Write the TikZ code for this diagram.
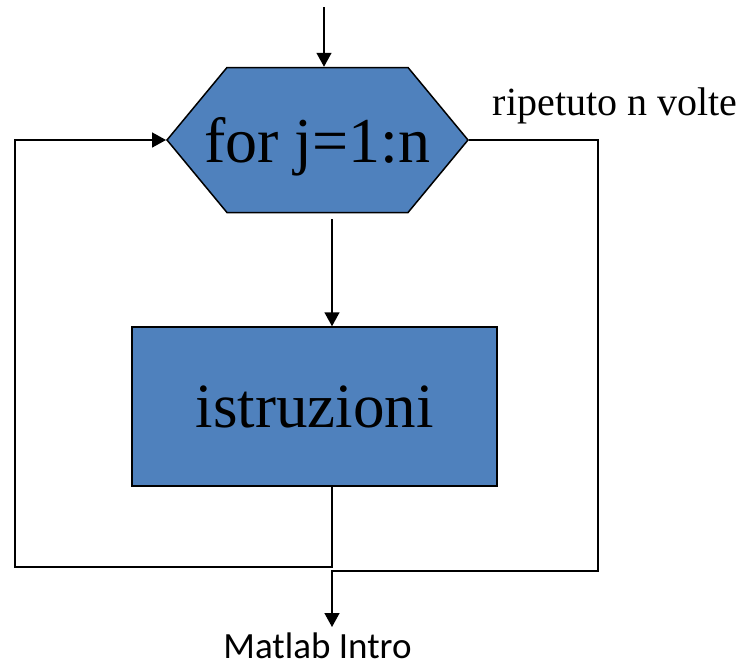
\documentclass[tikz,border=0pt]{standalone}
\usepackage{fontspec}
\setmainfont{Liberation Serif}
\newfontfamily\carlito{Carlito}
\usetikzlibrary{arrows.meta,shapes.symbols}
\definecolor{boxblue}{RGB}{79,129,189}
\tikzset{
  link/.style   = {line width=1.5pt},
  arr/.style    = {link, -{Triangle[length=14pt,width=15pt]}},
  hexbox/.style = {signal, signal to=west and east, signal pointer angle=100.8,
                   draw, line width=1.5pt, fill=boxblue, inner sep=0pt,
                   minimum width=301pt, minimum height=145pt},
  bodybox/.style= {rectangle, draw, line width=1.5pt, fill=boxblue, inner sep=0pt,
                   minimum width=365pt, minimum height=159pt,
                   font=\fontsize{63}{70}\selectfont},
  big/.style    = {font=\fontsize{64}{70}\selectfont, text depth=0pt, inner sep=0pt},
}

\begin{document}
\begin{tikzpicture}[x=1pt,y=-1pt]
  \useasboundingbox (0,0) rectangle (753,665);
  % blocchi
  \node[hexbox]  (for)  at (317.5,140  ) {};
  \node[big]     (fort) at (for.center) {for j=1:n};
  \node[bodybox] (body) at (314.5,406.5) {istruzioni};
  % punti di passaggio
  \coordinate (in)  at (324,  7);
  \coordinate (mid) at (332,219);
  \coordinate (lft) at ( 15,567);
  \coordinate (rgt) at (598,571);
  \coordinate (out) at (332,627);
  % frecce
  \draw[arr] (in) -- (in |- for.north);
  \draw[arr] (mid) -- (mid |- body.north);
  \draw[arr] (mid |- body.south) |- (lft) |- (for.west);
  \draw[arr] (for.east) -| (rgt) -| (out);
  % testi
  \node[anchor=base, font=\fontsize{40}{44}\selectfont] (rip) at (615,115) {ripetuto n volte};
  \node[anchor=base, inner sep=0pt, text depth=0pt, font=\carlito\fontsize{37}{40}\selectfont] (cap) at (317.5,658) {Matlab Intro};
\end{tikzpicture}
\end{document}
